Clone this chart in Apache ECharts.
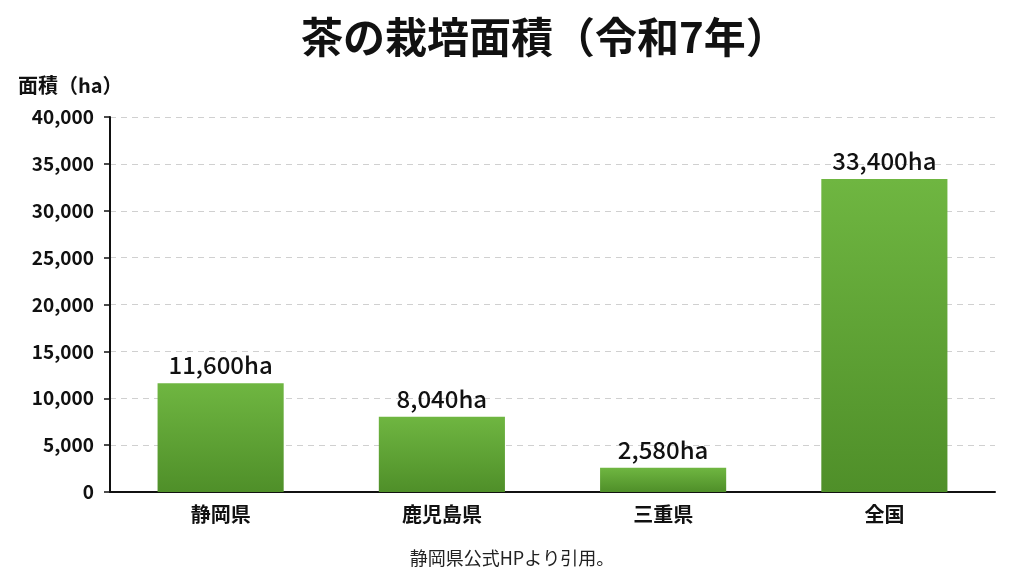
<!DOCTYPE html>
<html>
<head>
<meta charset="utf-8">
<script src="https://cdn.jsdelivr.net/npm/echarts@6/dist/echarts.min.js"></script>
<style>
html,body{margin:0;padding:0;background:#fff;}
#chart{width:1024px;height:576px;}
</style>
</head>
<body>
<div id="chart"></div>
<script>
var prefectures = ['静岡県', '鹿児島県', '三重県', '全国'];
var areaHa = [11600, 8040, 2580, 33400];
var yTicks = [0, 5000, 10000, 15000, 20000, 25000, 30000, 35000, 40000];

var font = '"Noto Sans CJK JP", "Noto Sans", sans-serif';

function fmt(v){
    return v.toLocaleString('en-US');
}

var myChart = echarts.init(document.getElementById('chart'));
var option = {
    backgroundColor: '#fff',
    animation: false,
    title: [{
        text: '茶の栽培面積（令和7年）',
        left: 296,
        top: 11,
        textStyle: {fontFamily: font, fontSize: 42, fontWeight: 'bold', color: '#111'}
    }, {
        text: '静岡県公式HPより引用。',
        left: 'center',
        top: 544,
        textStyle: {fontFamily: font, fontSize: 18, fontWeight: 'normal', color: '#222'}
    }],
    grid: {left: 110, right: 29, top: 117, bottom: 84},
    xAxis: {
        type: 'category',
        data: prefectures,
        axisLine: {lineStyle: {color: '#111', width: 2}},
        axisTick: {show: false},
        axisLabel: {fontFamily: font, fontSize: 20, fontWeight: 'bold', color: '#111', margin: 12}
    },
    yAxis: {
        type: 'value',
        min: yTicks[0],
        max: yTicks[yTicks.length - 1],
        interval: 5000,
        name: '面積（ha）',
        nameLocation: 'end',
        nameGap: 22,
        nameTextStyle: {fontFamily: font, fontSize: 20, fontWeight: 'bold', color: '#111', align: 'left', padding: [0, 0, 0, -92]},
        axisLine: {show: true, lineStyle: {color: '#111', width: 2}},
        axisTick: {show: true, length: 6, lineStyle: {color: '#111', width: 1.5}},
        axisLabel: {fontFamily: font, fontSize: 19, fontWeight: 'bold', color: '#111', margin: 16,
            formatter: function(v){ return fmt(v); }},
        splitLine: {lineStyle: {color: '#d0d0d0', type: [6, 5], width: 1}}
    },
    series: [{
        type: 'bar',
        data: areaHa,
        barWidth: '57%',
        itemStyle: {
            color: new echarts.graphic.LinearGradient(0, 0, 0, 1, [
                {offset: 0, color: '#6fb641'},
                {offset: 1, color: '#4f8f29'}
            ])
        },
        label: {
            show: true,
            position: 'top',
            distance: 6,
            fontFamily: font,
            fontSize: 24,
            fontWeight: 500,
            color: '#111',
            formatter: function(p){ return fmt(p.value) + 'ha'; }
        }
    }]
};
myChart.setOption(option);
</script>
</body>
</html>
